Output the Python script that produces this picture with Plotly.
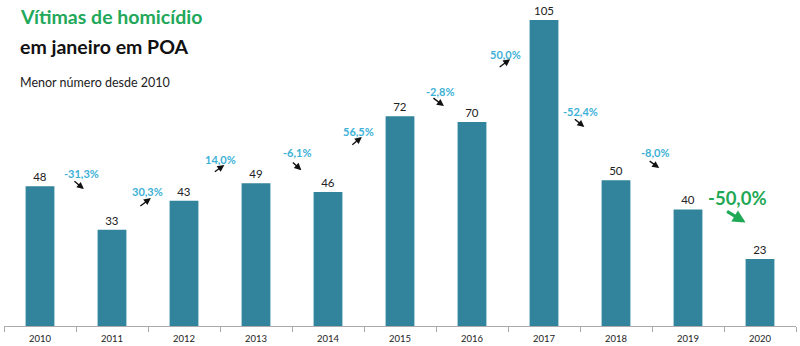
import plotly.graph_objects as go

years = ["2010", "2011", "2012", "2013", "2014", "2015", "2016", "2017", "2018", "2019", "2020"]
victims = [48, 33, 43, 49, 46, 72, 70, 105, 50, 40, 23]
pct_labels = ["-31,3%", "30,3%", "14,0%", "-6,1%", "56,5%", "-2,8%", "50,0%", "-52,4%", "-8,0%", "-50,0%"]

# annotation layout (data coordinates: category index, value)
label_pos = [(0.58, 52.5), (1.49, 46.3), (2.51, 57.3), (3.57, 59.4), (4.43, 66.9),
             (5.56, 80.6), (6.46, 93.3), (7.51, 73.8), (8.54, 59.4), (9.69, 43.9)]
arrow_head = [(0.61, 47.0), (1.54, 43.9), (2.56, 55.3), (3.63, 53.5), (4.47, 64.9),
              (5.61, 75.5), (6.53, 91.6), (7.56, 68.3), (8.60, 54.2), (9.80, 35.5)]
arrow_tail = [(-11, -9), (-12, 9), (-11, 8), (-10, -9), (-11, 9),
              (-12, -9), (-12, 9), (-11, -9), (-11, -8), (-20, -12)]

FONT = "Lato"
BAR = "#31849B"
CYAN = "#3DB1D6"
GREEN = "#1FA855"

fig = go.Figure(go.Bar(
    x=years, y=victims, marker_color=BAR, marker_line_width=0,
    text=[str(v) for v in victims], textposition="outside",
    textfont=dict(family=FONT, size=11.5, color="#222"), cliponaxis=False,
))

ann = []
n = len(pct_labels)
for i, lab in enumerate(pct_labels):
    last = i == n - 1
    ann.append(dict(x=label_pos[i][0], y=label_pos[i][1], xref="x", yref="y", text=f"<b>{lab}</b>",
                    showarrow=False, xanchor="center", yanchor="middle",
                    font=dict(family=FONT, size=18.5 if last else 11, color=GREEN if last else CYAN)))
    ann.append(dict(x=arrow_head[i][0], y=arrow_head[i][1], xref="x", yref="y", text="",
                    showarrow=True, ax=arrow_tail[i][0], ay=arrow_tail[i][1],
                    arrowhead=2, arrowsize=1 if not last else 0.8, arrowwidth=3.2 if last else 1.4,
                    arrowcolor=GREEN if last else "#111"))

ann.append(dict(x=0.0177, y=0.948, xref="paper", yref="paper", text="<b>Vítimas de homicídio</b>",
                showarrow=False, xanchor="left", yanchor="middle",
                font=dict(family=FONT, size=19.5, color="#22A85A")))
ann.append(dict(x=0.0177, y=0.856, xref="paper", yref="paper", text="<b>em janeiro em POA</b>",
                showarrow=False, xanchor="left", yanchor="middle",
                font=dict(family=FONT, size=19.5, color="#111")))
ann.append(dict(x=0.0177, y=0.748, xref="paper", yref="paper", text="Menor número desde 2010",
                showarrow=False, xanchor="left", yanchor="middle",
                font=dict(family=FONT, size=12.5, color="#222")))

fig.update_layout(
    width=800, height=346, margin=dict(l=4, r=4, t=0, b=20),
    paper_bgcolor="white", plot_bgcolor="white",
    bargap=0.6, showlegend=False, annotations=ann,
    xaxis=dict(type="category", showline=True, linecolor="#aaa", linewidth=1,
               ticks="outside", tickson="boundaries", ticklen=5, tickcolor="#aaa",
               ticklabelstandoff=4,
               tickfont=dict(family=FONT, size=9.5, color="#222"), showgrid=False),
    yaxis=dict(range=[0, 111.9], visible=False, showgrid=False),
)

fig.write_html("out.html")
